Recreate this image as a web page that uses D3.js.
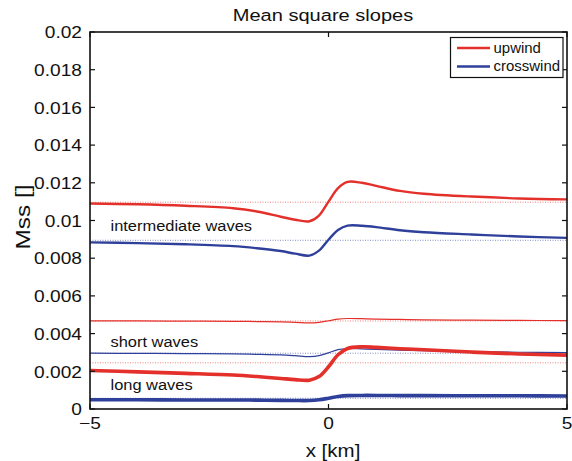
<!DOCTYPE html>
<html>
<head>
<meta charset="utf-8">
<script src="https://cdn.jsdelivr.net/npm/d3@7"></script>
<style>
  html, body { margin: 0; padding: 0; background: #fff; }
  svg { display: block; font-family: "Liberation Sans", Arial, Helvetica, sans-serif; }
</style>
</head>
<body>
<svg id="chart" width="572" height="461"></svg>
<script>
// Along-track positions (km) at which the slopes are sampled
const xKm = [-5, -4, -3, -2, -1.5, -1, -0.7, -0.4, -0.2, 0, 0.2, 0.4, 0.7, 1, 1.5, 2, 3, 4, 5];

// Intermediate waves
const upwindIntermediate    = [0.01090, 0.01086, 0.01078, 0.01065, 0.01048, 0.01020, 0.01004, 0.00996, 0.01026, 0.01100, 0.01172, 0.01205, 0.01200, 0.01184, 0.01157, 0.01142, 0.01127, 0.01117, 0.01112];
const crosswindIntermediate = [0.00884, 0.00880, 0.00874, 0.00864, 0.00853, 0.00838, 0.00824, 0.00814, 0.00840, 0.00898, 0.00950, 0.00973, 0.00972, 0.00965, 0.00948, 0.00938, 0.00926, 0.00915, 0.00908];
// Short waves
const upwindShort    = [0.00467, 0.00467, 0.00466, 0.00465, 0.00464, 0.00462, 0.00460, 0.00457, 0.00460, 0.00468, 0.00477, 0.00480, 0.00479, 0.00477, 0.00475, 0.00473, 0.00471, 0.00470, 0.00469];
const crosswindShort = [0.00296, 0.00295, 0.00294, 0.00292, 0.00290, 0.00287, 0.00283, 0.00278, 0.00283, 0.00298, 0.00315, 0.00321, 0.00319, 0.00316, 0.00312, 0.00309, 0.00304, 0.00301, 0.00299];
// Long waves
const upwindLong    = [0.00204, 0.00197, 0.00189, 0.00180, 0.00172, 0.00162, 0.00156, 0.00153, 0.00172, 0.00224, 0.00288, 0.00321, 0.00330, 0.00327, 0.00320, 0.00314, 0.00302, 0.00292, 0.00286];
const crosswindLong = [0.00049, 0.00049, 0.00048, 0.00048, 0.00047, 0.00046, 0.00045, 0.00045, 0.00049, 0.00057, 0.00066, 0.00071, 0.00072, 0.00072, 0.00071, 0.00071, 0.00070, 0.00070, 0.00069];

// Undisturbed background levels (dotted lines)
const backgroundUpwind    = [0.01097, 0.00467, 0.00245];
const backgroundCrosswind = [0.00895, 0.00296, 0.00057];

// Axis ticks and labels
const xTicks = [-5, 0, 5];
const yTicks = [0, 0.002, 0.004, 0.006, 0.008, 0.01, 0.012, 0.014, 0.016, 0.018, 0.02];
const yTickLabels = ["0", "0.002", "0.004", "0.006", "0.008", "0.01", "0.012", "0.014", "0.016", "0.018", "0.02"];
const groupLabels = ["intermediate waves", "short waves", "long waves"];
const groupLabelY = [0.00944, 0.00330, 0.00103];
const legendNames = ["upwind", "crosswind"];

const RED = "#e3302b", BLUE = "#2f409b";

const svg = d3.select("#chart");
const L = 90, R = 567, T = 32, B = 409;
const x = d3.scaleLinear().domain([-5, 5]).range([L, R]);
const y = d3.scaleLinear().domain([0, 0.02]).range([B, T]);

// Text helper: MATLAB-style Helvetica is a little wider than Liberation Sans
function label(g, txt, px, py, size, sx, anchor, rot) {
  return g.append("text")
    .attr("transform", `translate(${px},${py})` + (rot ? ` rotate(${rot})` : "") + ` scale(${sx},1)`)
    .attr("font-size", size)
    .attr("text-anchor", anchor || "start")
    .attr("fill", "#111")
    .text(txt);
}

const plot = svg.append("g");

// Dotted background levels
const levels = [
  ...backgroundUpwind.map(v => ({ v, c: RED })),
  ...backgroundCrosswind.map(v => ({ v, c: BLUE }))
];
plot.selectAll("line.level").data(levels).join("line")
  .attr("class", "level")
  .attr("x1", x(-5)).attr("x2", x(5))
  .attr("y1", d => y(d.v)).attr("y2", d => y(d.v))
  .attr("stroke", d => d.c).attr("stroke-opacity", 0.6)
  .attr("stroke-width", 1).attr("stroke-dasharray", "1,1.5");

// Slope profiles
const series = [
  { vals: upwindShort, c: RED, w: 1.2 },
  { vals: crosswindShort, c: BLUE, w: 1.2 },
  { vals: upwindIntermediate, c: RED, w: 2.4 },
  { vals: crosswindIntermediate, c: BLUE, w: 2.4 },
  { vals: crosswindLong, c: BLUE, w: 3.6 },
  { vals: upwindLong, c: RED, w: 3.6 }
];
const line = d3.line().x(d => x(d[0])).y(d => y(d[1])).curve(d3.curveCatmullRom.alpha(0.5));
plot.selectAll("path.profile").data(series).join("path")
  .attr("class", "profile")
  .attr("d", s => line(xKm.map((xv, i) => [xv, s.vals[i]])))
  .attr("fill", "none")
  .attr("stroke", s => s.c)
  .attr("stroke-width", s => s.w)
  .attr("stroke-linejoin", "round");

// Group labels
groupLabels.forEach((t, i) => label(svg, t, 110.5, y(groupLabelY[i]), 15.5, 1.06, "start"));

// Axes (box with inward ticks on all sides)
const axes = svg.append("g");
axes.append("rect").attr("x", L).attr("y", T).attr("width", R - L).attr("height", B - T)
  .attr("fill", "none").attr("stroke", "#111").attr("stroke-width", 1.6);

const tickLen = 5;
yTicks.forEach(v => {
  axes.append("line").attr("x1", L).attr("x2", L + tickLen).attr("y1", y(v)).attr("y2", y(v))
    .attr("stroke", "#111").attr("stroke-width", 1.2);
  axes.append("line").attr("x1", R).attr("x2", R - tickLen).attr("y1", y(v)).attr("y2", y(v))
    .attr("stroke", "#111").attr("stroke-width", 1.2);
});
xTicks.forEach(v => {
  axes.append("line").attr("x1", x(v)).attr("x2", x(v)).attr("y1", B).attr("y2", B - tickLen)
    .attr("stroke", "#111").attr("stroke-width", 1.2);
  axes.append("line").attr("x1", x(v)).attr("x2", x(v)).attr("y1", T).attr("y2", T + tickLen)
    .attr("stroke", "#111").attr("stroke-width", 1.2);
});

// Tick labels
yTicks.forEach((v, i) => label(axes, yTickLabels[i], 82, y(v) + 6.2, 16.5, 1.16, "end"));
xTicks.forEach(v => label(axes, v < 0 ? "\u2212" + Math.abs(v) : String(v), x(v), 429, 16.5, 1.16, "middle"));

// Axis titles and chart title
label(svg, "x [km]", 333, 457, 19, 1.08, "middle");
label(svg, "Mss []", 29.5, 217, 19.5, 1.25, "middle", -90);
label(svg, "Mean square slopes", 323, 21, 17, 1.18, "middle");

// Legend
const lg = svg.append("g");
lg.append("rect").attr("x", 450.5).attr("y", 37.5).attr("width", 112.5).attr("height", 40)
  .attr("fill", "#fff").attr("stroke", "#111").attr("stroke-width", 1.2);
[RED, BLUE].forEach((c, i) => {
  const ly = 48 + i * 18.5;
  lg.append("line").attr("x1", 457).attr("x2", 490).attr("y1", ly).attr("y2", ly)
    .attr("stroke", c).attr("stroke-width", 2.6);
  label(lg, legendNames[i], 493.5, ly + 4.8, 14, 1.07, "start");
});
</script>
</body>
</html>
